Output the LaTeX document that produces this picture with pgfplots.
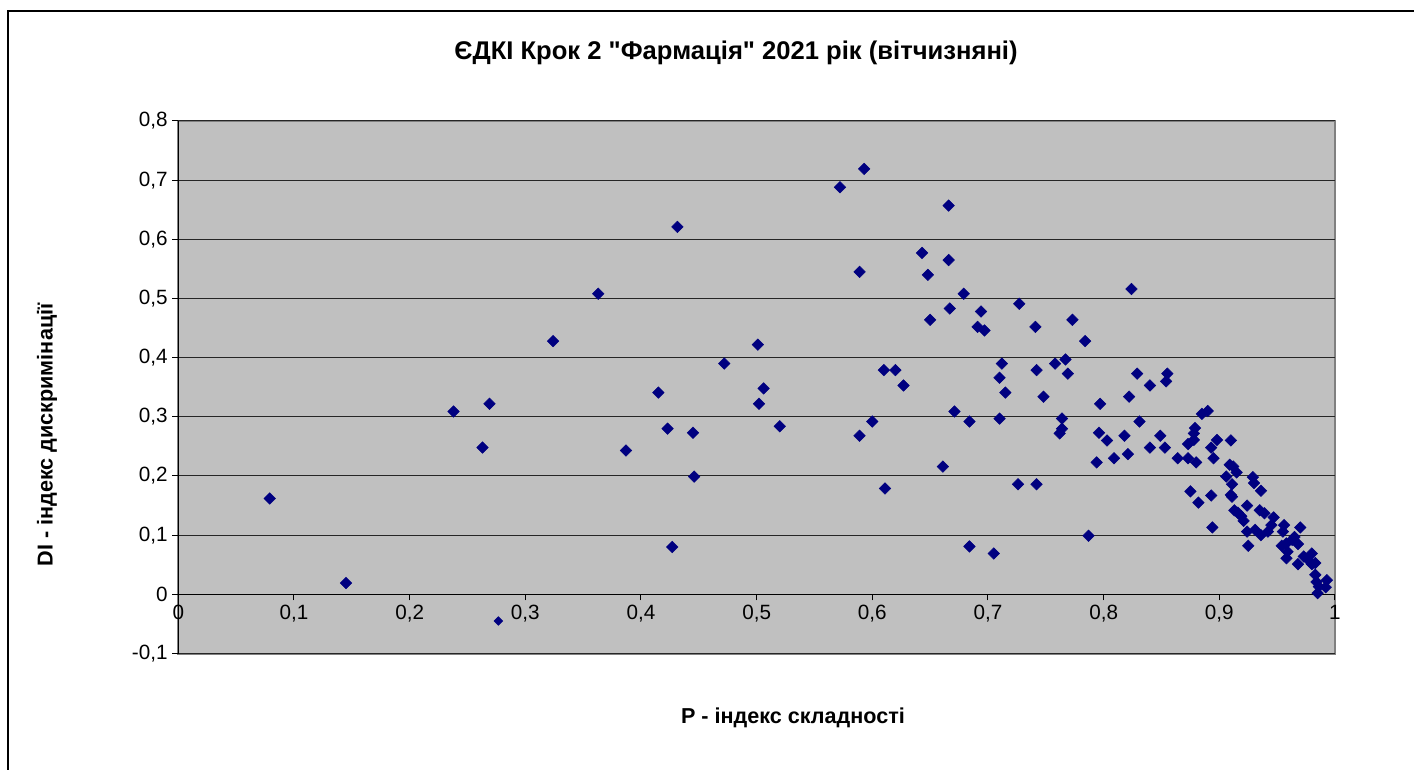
\documentclass[border=0pt]{standalone}
\usepackage{fontspec}
\setmainfont{Liberation Sans}[Ligatures=TeXOff]
\usepackage{pgfplots}
\pgfplotsset{compat=1.18}
\definecolor{navy}{RGB}{0,0,128}
\definecolor{bggray}{RGB}{192,192,192}
\definecolor{bordergray}{RGB}{128,128,128}
\pgfplotstableread{
x y
0.079 0.162
0.145 0.019
0.238 0.309
0.263 0.248
0.269 0.322
0.324 0.428
0.363 0.508
0.387 0.243
0.415 0.341
0.423 0.280
0.427 0.080
0.4315 0.621
0.445 0.273
0.446 0.199
0.472 0.390
0.501 0.422
0.502 0.322
0.506 0.348
0.520 0.284
0.593 0.719
0.572 0.688
0.666 0.657
0.643 0.577
0.666 0.565
0.589 0.545
0.648 0.540
0.679 0.508
0.727 0.491
0.667 0.483
0.694 0.478
0.650 0.464
0.691 0.452
0.697 0.446
0.741 0.452
0.712 0.390
0.610 0.379
0.620 0.379
0.710 0.366
0.742 0.379
0.627 0.353
0.715 0.341
0.671 0.309
0.684 0.292
0.710 0.297
0.600 0.292
0.589 0.268
0.661 0.216
0.611 0.179
0.726 0.186
0.742 0.186
0.684 0.081
0.705 0.069
0.773 0.464
0.784 0.428
0.758 0.390
0.767 0.397
0.769 0.373
0.824 0.516
0.829 0.373
0.855 0.373
0.854 0.360
0.840 0.353
0.748 0.334
0.822 0.334
0.797 0.322
0.885 0.305
0.890 0.310
0.764 0.297
0.831 0.292
0.764 0.280
0.762 0.272
0.796 0.273
0.803 0.260
0.818 0.268
0.849 0.268
0.879 0.281
0.878 0.272
0.878 0.261
0.873 0.254
0.840 0.248
0.853 0.248
0.794 0.223
0.809 0.230
0.821 0.237
0.864 0.230
0.873 0.230
0.880 0.223
0.875 0.174
0.882 0.155
0.787 0.099
0.898 0.261
0.910 0.260
0.893 0.248
0.895 0.230
0.909 0.219
0.912 0.216
0.915 0.206
0.906 0.199
0.911 0.186
0.929 0.198
0.930 0.188
0.936 0.175
0.910 0.168
0.911 0.165
0.893 0.167
0.924 0.150
0.935 0.142
0.913 0.142
0.916 0.138
0.919 0.132
0.921 0.124
0.939 0.137
0.947 0.130
0.945 0.117
0.942 0.106
0.924 0.106
0.931 0.109
0.936 0.100
0.894 0.113
0.925 0.082
0.956 0.117
0.955 0.106
0.970 0.113
0.954 0.082
0.958 0.086
0.963 0.092
0.965 0.097
0.968 0.085
0.959 0.072
0.958 0.061
0.980 0.069
0.973 0.064
0.968 0.051
0.977 0.058
0.983 0.053
0.980 0.051
0.983 0.033
0.984 0.021
0.985 0.002
0.993 0.024
0.992 0.012
0.986 0.013
}\datatable
\begin{document}
\begin{tikzpicture}[x=0.75pt,y=0.75pt]
\useasboundingbox (0,0) rectangle (1414,769);
\draw[line width=1.6pt] (8,-20) -- (8,758) -- (1440,758);
\begin{axis}[
  at={(133.725pt,86.625pt)}, anchor=south west,
  scale only axis, width=867.5pt, height=399.4pt,
  xmin=0, xmax=1, ymin=-0.1, ymax=0.8,
  axis background/.style={fill=bggray, draw=bordergray, line width=1.5pt},
  axis x line=middle, axis y line=left,
  axis line style={-, black, line width=0.9pt},
  hide obscured x ticks=false, hide obscured y ticks=false,
  xtick={0,0.1,0.2,0.3,0.4,0.5,0.6,0.7,0.8,0.9,1},
  xticklabels={0,{0,1},{0,2},{0,3},{0,4},{0,5},{0,6},{0,7},{0,8},{0,9},1},
  ytick={-0.1,0,0.1,0.2,0.3,0.4,0.5,0.6,0.7,0.8},
  yticklabels={{-0,1},0,{0,1},{0,2},{0,3},{0,4},{0,5},{0,6},{0,7},{0,8}},
  tick align=outside, major tick length=4.5pt,
  tick style={black, line width=0.75pt},
  ymajorgrids, grid style={black!85, line width=0.75pt},
  tick label style={font=\fontsize{15.5}{18}\selectfont},
  clip=false,
  legend style={at={(axis description cs:0.279,0.0611)}, anchor=center, draw=none, fill=none, inner sep=0pt, outer sep=0pt},
  legend image code/.code={\draw[mark=square*, mark size=2.3pt, mark options={rotate=45, fill=navy, draw=navy}] plot coordinates {(0pt,0pt)};},
]
\addplot[only marks, mark=square*, mark size=3.05pt, mark options={rotate=45, fill=navy, draw=navy}] table[x=x,y=y] {\datatable};
\addlegendentry{\mbox{}}
\end{axis}
\node[font=\bfseries\fontsize{19.2}{22}\selectfont] at (736,716) {ЄДКІ Крок 2 "Фармація" 2021 рік (вітчизняні)};
\node[font=\bfseries\fontsize{16.2}{19}\selectfont, rotate=90] at (47,334) {DI - індекс дискримінації};
\node[font=\bfseries\fontsize{16.2}{19}\selectfont] at (793,51) {P - індекс складності};
\end{tikzpicture}
\end{document}
